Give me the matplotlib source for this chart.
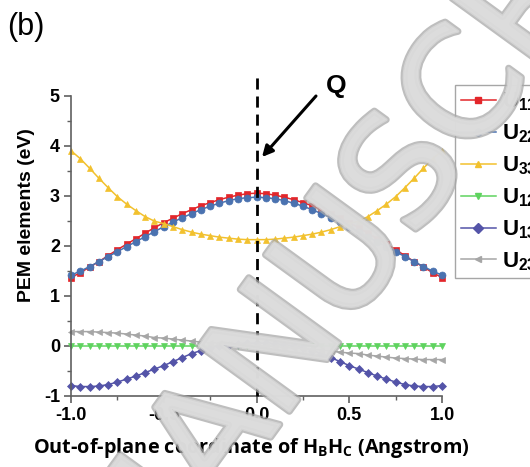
import numpy as np
import matplotlib
matplotlib.use("Agg")
import matplotlib.pyplot as plt
from matplotlib import patheffects as pe
from matplotlib.lines import Line2D

plt.rcParams['font.family'] = ['Liberation Sans', 'DejaVu Sans']

# out-of-plane coordinate (Angstrom)
coord = np.round(np.arange(-1.0, 1.0001, 0.05), 2)

u11 = [1.36, 1.46, 1.57, 1.68, 1.80, 1.92, 2.03, 2.14, 2.25, 2.36, 2.46,
       2.55, 2.64, 2.72, 2.80, 2.86, 2.92, 2.97, 3.01, 3.04, 3.05,
       3.04, 3.01, 2.97, 2.92, 2.86, 2.80, 2.72, 2.64, 2.55, 2.46,
       2.36, 2.25, 2.14, 2.03, 1.92, 1.80, 1.68, 1.57, 1.46, 1.36]
u22 = [1.41, 1.49, 1.58, 1.68, 1.78, 1.88, 1.98, 2.08, 2.18, 2.28, 2.38,
       2.47, 2.56, 2.64, 2.72, 2.79, 2.85, 2.90, 2.94, 2.96, 2.97,
       2.96, 2.94, 2.90, 2.85, 2.79, 2.72, 2.64, 2.56, 2.47, 2.38,
       2.28, 2.18, 2.08, 1.98, 1.88, 1.78, 1.68, 1.58, 1.49, 1.41]
u33 = [3.90, 3.74, 3.55, 3.35, 3.16, 2.98, 2.83, 2.70, 2.58, 2.49, 2.44,
       2.38, 2.32, 2.27, 2.23, 2.20, 2.17, 2.15, 2.13, 2.12, 2.12,
       2.12, 2.13, 2.15, 2.17, 2.20, 2.23, 2.27, 2.32, 2.38, 2.44,
       2.49, 2.58, 2.70, 2.83, 2.98, 3.16, 3.35, 3.55, 3.74, 3.90]
u12 = [0.00, 0.00, 0.00, 0.00, 0.00, 0.00, 0.00, 0.00, 0.00, 0.00, 0.00,
       0.00, 0.00, 0.00, 0.00, 0.00, 0.00, 0.00, 0.00, 0.00, 0.00,
       0.00, 0.00, 0.00, 0.00, 0.00, 0.00, 0.00, 0.00, 0.00, 0.00,
       0.00, 0.00, 0.00, 0.00, 0.00, 0.00, 0.00, 0.00, 0.00, 0.00]
u13 = [-0.80, -0.82, -0.82, -0.81, -0.78, -0.73, -0.67, -0.61, -0.54, -0.47, -0.40,
       -0.32, -0.24, -0.16, -0.10, -0.04, 0.00, 0.02, 0.04, 0.05, 0.05,
       0.05, 0.04, 0.02, 0.00, -0.04, -0.10, -0.16, -0.24, -0.32, -0.40,
       -0.47, -0.54, -0.61, -0.67, -0.73, -0.78, -0.81, -0.82, -0.82, -0.80]
u23 = [0.28, 0.28, 0.28, 0.27, 0.26, 0.25, 0.23, 0.21, 0.19, 0.16, 0.15,
       0.13, 0.11, 0.09, 0.07, 0.06, 0.05, 0.04, 0.02, 0.01, 0.00,
       -0.01, -0.02, -0.04, -0.05, -0.06, -0.07, -0.09, -0.11, -0.13, -0.15,
       -0.16, -0.19, -0.21, -0.23, -0.25, -0.26, -0.27, -0.28, -0.28, -0.28]

series = [
    (u11, r'U$_\mathregular{11}$', '#e3262a', 's'),
    (u22, r'U$_\mathregular{22}$', '#4a72b0', 'o'),
    (u33, r'U$_\mathregular{33}$', '#f2c12e', '^'),
    (u12, r'U$_\mathregular{12}$', '#5fd35f', 'v'),
    (u13, r'U$_\mathregular{13}$', '#5454a8', 'D'),
    (u23, r'U$_\mathregular{23}$', '#a6a6a6', '<'),
]

fig = plt.figure(figsize=(5.30, 4.67), dpi=100)
ax = fig.add_axes([0.134, 0.153, 0.700, 0.642])

handles = []
for vals, label, color, marker in series:
    ms = 4 if marker == 'D' else 5
    ax.plot(coord, vals, color=color, lw=1.1, marker=marker, ms=ms,
            markeredgewidth=0.5, markeredgecolor=color, clip_on=False)
    handles.append(Line2D([], [], color=color, lw=1.1, marker=marker, ms=5,
                          markeredgecolor=color, label=label))

# position Q marked by a dashed line
ax.plot([0, 0], [-1, 5.38], color='black', lw=2, ls=(0, (4, 2.5)),
        clip_on=False, zorder=5)

ax.set_xlim(-1.0, 1.0)
ax.set_ylim(-1, 5)
ax.set_xticks([-1.0, -0.5, 0.0, 0.5, 1.0])
ax.set_xticklabels(['-1.0', '-0.5', '0.0', '0.5', '1.0'])
ax.set_xticks(np.arange(-1.0, 1.01, 0.25), minor=True)
ax.set_yticks([-1, 0, 1, 2, 3, 4, 5])
ax.set_yticklabels(['-1', '0', '1', '2', '3', '4', '5'])
ax.set_yticks(np.arange(-1, 5.01, 0.5), minor=True)
for s in ['top', 'right']:
    ax.spines[s].set_visible(False)
for s in ['left', 'bottom']:
    ax.spines[s].set_color('#606060')
    ax.spines[s].set_linewidth(1.2)
ax.tick_params(which='major', direction='out', length=5, width=1.2,
               color='#606060', labelsize=13, pad=3)
ax.tick_params(which='minor', direction='out', length=3, width=1,
               color='#606060')
for t in ax.get_xticklabels() + ax.get_yticklabels():
    t.set_fontweight('bold')

fig.text(27 / 530, 1 - 215 / 467, 'PEM elements (eV)', rotation=90,
         ha='center', va='center', fontsize=14, fontweight='bold')
fig.text(251 / 530, 1 - 448 / 467,
         r'Out-of-plane coordinate of H$_\mathregular{B}$H$_\mathregular{C}$ (Angstrom)',
         ha='center', va='center', fontsize=14.3, fontweight='bold',
         family='Open Sans')

fig.text(7 / 530, 1 - 27 / 467, '(b)', ha='left', va='center', fontsize=22)
fig.text(336 / 530, 1 - 86 / 467, 'Q', ha='center', va='center',
         fontsize=19, fontweight='bold')
ax.annotate('', xy=(262 / 530, 1 - 157 / 467), xycoords='figure fraction',
            xytext=(316 / 530, 1 - 96 / 467), textcoords='figure fraction',
            arrowprops=dict(arrowstyle='-|>', color='black', lw=2.2,
                            mutation_scale=16, shrinkA=0, shrinkB=0))

leg = fig.legend(handles=handles, loc='upper left',
                 bbox_to_anchor=(455 / 530, 1 - 85 / 467), borderaxespad=0,
                 prop={'weight': 'bold', 'size': 16}, handlelength=1.6,
                 handletextpad=0.25, labelspacing=0.42, borderpad=0.25,
                 frameon=True, fancybox=False)
leg.get_frame().set_edgecolor('#909090')
leg.get_frame().set_linewidth(1.0)

# manuscript stamp across the plot
fig.text(402 / 530, 1 - 184 / 467, 'MANUSCRIPT', rotation=54,
         rotation_mode='anchor', ha='center', va='center', fontsize=110,
         family='DejaVu Sans', color='#dcdcdc', alpha=0.75, zorder=20,
         path_effects=[pe.Stroke(linewidth=5, foreground='#a8a8a8'),
                       pe.Stroke(linewidth=2, foreground='#dcdcdc'),
                       pe.Normal()])

fig.savefig('out.png', dpi=100)
